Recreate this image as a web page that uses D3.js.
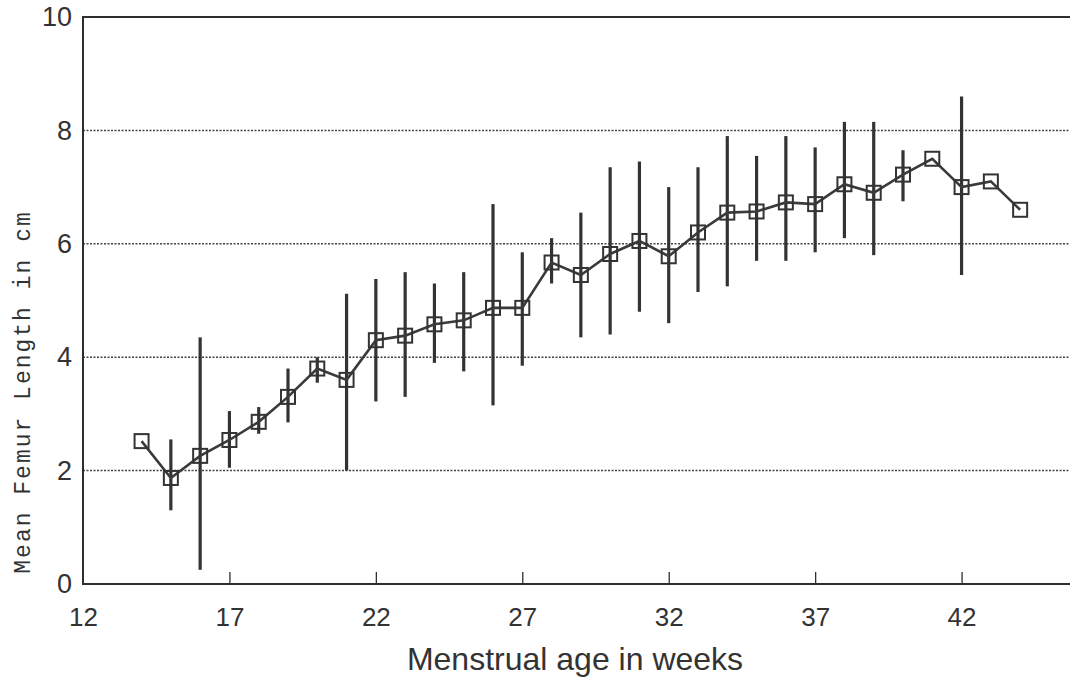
<!DOCTYPE html>
<html>
<head>
<meta charset="utf-8">
<script src="https://cdn.jsdelivr.net/npm/d3@7"></script>
<style>
  body { margin: 0; background: #fff; }
  svg { display: block; }
</style>
</head>
<body>
<svg width="1070" height="681"></svg>
<script>
// values
var weeks = [14, 15, 16, 17, 18, 19, 20, 21, 22, 23, 24, 25, 26, 27, 28, 29,
             30, 31, 32, 33, 34, 35, 36, 37, 38, 39, 40, 41, 42, 43, 44];
var meanLength = [2.52, 1.87, 2.26, 2.54, 2.86, 3.3, 3.8, 3.6, 4.3, 4.38, 4.58, 4.65,
                  4.87, 4.87, 5.67, 5.45, 5.82, 6.05, 5.78, 6.2, 6.55, 6.57, 6.73, 6.7,
                  7.05, 6.9, 7.22, 7.5, 7.0, 7.1, 6.6];
var lowLength = [null, 1.3, 0.25, 2.05, 2.65, 2.85, 3.55, 2.0, 3.22, 3.3, 3.9, 3.75,
                 3.15, 3.85, 5.3, 4.35, 4.4, 4.8, 4.6, 5.15, 5.25, 5.7, 5.7, 5.85,
                 6.1, 5.8, 6.75, null, 5.45, null, null];
var highLength = [null, 2.55, 4.35, 3.05, 3.12, 3.8, 4.0, 5.12, 5.38, 5.5, 5.3, 5.5,
                  6.7, 5.85, 6.1, 6.55, 7.35, 7.45, 7.0, 7.35, 7.9, 7.55, 7.9, 7.7,
                  8.15, 8.15, 7.65, null, 8.6, null, null];
var xTicks = [12, 17, 22, 27, 32, 37, 42];
var yTicks = [0, 2, 4, 6, 8, 10];

var svg = d3.select("svg");
var ink = "#2e2e2e";

var x = d3.scaleLinear().domain([12, 47]).range([83, 1108]);
var y = d3.scaleLinear().domain([0, 10]).range([584, 17]);

var points = weeks.map(function(w, i) {
    return {week: w, mean: meanLength[i], low: lowLength[i], high: highLength[i]};
});

// dotted grid lines
svg.append("g")
    .selectAll("line")
    .data([2, 4, 6, 8])
    .enter().append("line")
    .attr("x1", x(12))
    .attr("x2", x(47))
    .attr("y1", function(d) { return y(d); })
    .attr("y2", function(d) { return y(d); })
    .attr("stroke", "#444")
    .attr("stroke-width", 1.5)
    .attr("stroke-dasharray", "2,1.5");

// frame: top, left, bottom
svg.append("path")
    .attr("d", "M" + x(47) + "," + y(10) + "H" + x(12) + "V" + y(0) + "H" + x(47))
    .attr("fill", "none")
    .attr("stroke", ink)
    .attr("stroke-width", 2);

// x axis: inward ticks, no domain line
var xAxis = svg.append("g")
    .attr("transform", "translate(0," + y(0) + ")")
    .call(d3.axisBottom(x).tickValues(xTicks).tickSize(0).tickPadding(24));
xAxis.select(".domain").remove();
xAxis.selectAll("text")
    .style("font-family", "Liberation Sans, Arial, sans-serif")
    .style("font-size", "26px")
    .attr("fill", "#333");
xAxis.selectAll(".tick")
    .filter(function(d) { return d !== 12; })
    .append("line")
    .attr("y1", 0)
    .attr("y2", -12)
    .attr("stroke", ink)
    .attr("stroke-width", 1.3);

var yAxis = svg.append("g")
    .attr("transform", "translate(" + x(12) + ",0)")
    .call(d3.axisLeft(y).tickValues(yTicks).tickSize(0).tickPadding(11));
yAxis.select(".domain").remove();
yAxis.selectAll("text")
    .style("font-family", "Liberation Sans, Arial, sans-serif")
    .style("font-size", "27px")
    .attr("fill", "#333");

// error bars
svg.append("g")
    .attr("stroke", "#333")
    .attr("stroke-width", 3.2)
    .selectAll("line")
    .data(points.filter(function(d) { return d.low !== null; }))
    .enter().append("line")
    .attr("x1", function(d) { return x(d.week); })
    .attr("x2", function(d) { return x(d.week); })
    .attr("y1", function(d) { return y(d.low); })
    .attr("y2", function(d) { return y(d.high); });

// mean line
var line = d3.line()
    .x(function(d) { return x(d.week); })
    .y(function(d) { return y(d.mean); });

svg.append("path")
    .datum(points)
    .attr("d", line)
    .attr("fill", "none")
    .attr("stroke", "#3a3a3a")
    .attr("stroke-width", 2.6);

// square markers
var s = 14;
svg.append("g")
    .selectAll("rect")
    .data(points)
    .enter().append("rect")
    .attr("x", function(d) { return x(d.week) - s / 2; })
    .attr("y", function(d) { return y(d.mean) - s / 2; })
    .attr("width", s)
    .attr("height", s)
    .attr("fill", "none")
    .attr("stroke", "#333")
    .attr("stroke-width", 2);

// axis titles
svg.append("text")
    .attr("x", 575)
    .attr("y", 670)
    .attr("text-anchor", "middle")
    .attr("font-family", "Liberation Sans, Arial, sans-serif")
    .attr("font-size", 32)
    .attr("fill", "#333")
    .text("Menstrual age in weeks");

svg.append("text")
    .attr("transform", "translate(30,392) rotate(-90)")
    .attr("text-anchor", "middle")
    .attr("font-family", "Liberation Mono, Courier New, monospace")
    .attr("font-size", 23)
    .attr("letter-spacing", 2)
    .attr("fill", "#333")
    .text("Mean Femur Length in cm");
</script>
</body>
</html>
